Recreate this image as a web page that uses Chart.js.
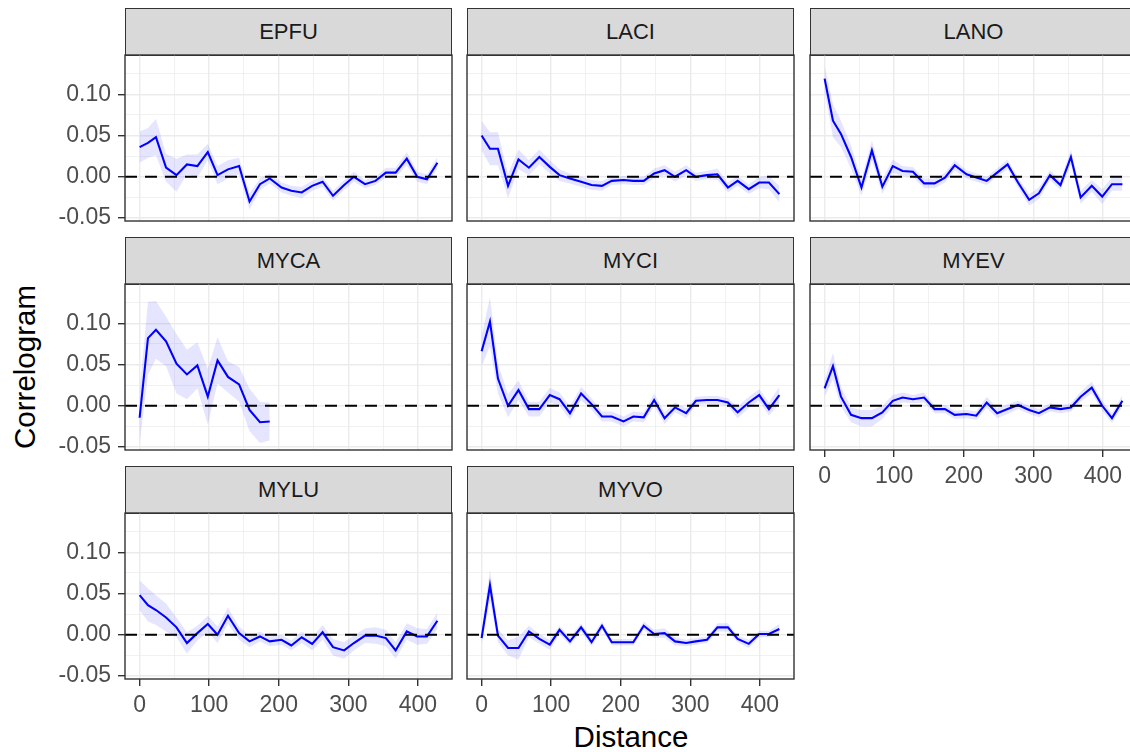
<!DOCTYPE html>
<html>
<head>
<meta charset="utf-8">
<script src="https://cdn.jsdelivr.net/npm/chart.js@4.4.1/dist/chart.umd.min.js"></script>
<style>
  html, body { margin: 0; padding: 0; background: #fff; }
  body { width: 1130px; height: 752px; overflow: hidden; position: relative;
         font-family: 'Liberation Sans', Arial, sans-serif; }
  .strip { position: absolute; box-sizing: border-box; background: #D9D9D9;
           border: 1.4px solid #333; color: #1A1A1A; font-size: 22px;
           display: flex; align-items: center; justify-content: center; }
  .holder { position: absolute; }
  .ytitle { position: absolute; left: 25px; top: 367px; font-size: 29.5px; color: #000;
            transform: translate(-50%, -50%) rotate(-90deg); white-space: nowrap; }
  .xtitle { position: absolute; left: 631px; top: 737px; font-size: 29.5px; color: #000;
            transform: translate(-50%, -50%); white-space: nowrap; }
</style>
</head>
<body>
<div class="ytitle">Correlogram</div>
<div class="xtitle">Distance</div>
<script>
// distance classes (shared by all species, MYCA only uses the first 14)
const distance = [0, 12, 23.5, 38, 53, 68, 83, 98, 112, 127, 143, 158, 173, 187, 204,
                  218, 233, 248, 263, 278, 294, 308, 324, 339, 354, 368, 384, 399, 413, 428];

const EPFU = [0.036, 0.041, 0.048, 0.011, 0.002, 0.015, 0.013, 0.030, 0.002, 0.009, 0.013, -0.030, -0.009, -0.002, -0.013,
              -0.017, -0.019, -0.011, -0.006, -0.023, -0.010, 0.000, -0.009, -0.005, 0.005, 0.005, 0.022, 0.000, -0.003, 0.017];
const LACI = [0.050, 0.034, 0.034, -0.011, 0.021, 0.011, 0.024, 0.012, 0.002, -0.002, -0.006, -0.010, -0.011, -0.005, -0.004,
              -0.005, -0.005, 0.004, 0.008, 0.000, 0.008, 0.000, 0.002, 0.003, -0.013, -0.005, -0.015, -0.007, -0.007, -0.021];
const LANO = [0.119, 0.068, 0.052, 0.024, -0.013, 0.032, -0.012, 0.013, 0.007, 0.006, -0.008, -0.008, -0.001, 0.014, 0.003,
              -0.001, -0.005, 0.005, 0.015, -0.007, -0.028, -0.020, 0.002, -0.010, 0.024, -0.025, -0.011, -0.024, -0.009, -0.009];
const MYCA = [-0.0145, 0.082, 0.092, 0.078, 0.051, 0.038, 0.049, 0.011, 0.055, 0.035, 0.026, -0.005, -0.020, -0.019];
const MYCI = [0.066, 0.102, 0.033, 0.000, 0.019, -0.004, -0.004, 0.013, 0.008, -0.009, 0.015, 0.002, -0.013, -0.013, -0.019,
              -0.013, -0.014, 0.007, -0.015, -0.002, -0.009, 0.006, 0.007, 0.007, 0.004, -0.008, 0.004, 0.013, -0.004, 0.013];
const MYEV = [0.021, 0.048, 0.011, -0.011, -0.015, -0.015, -0.008, 0.006, 0.010, 0.008, 0.010, -0.004, -0.004, -0.011, -0.010,
              -0.012, 0.004, -0.009, -0.004, 0.001, -0.005, -0.009, -0.002, -0.004, -0.002, 0.011, 0.022, 0.000, -0.015, 0.006];
const MYLU = [0.048, 0.036, 0.030, 0.021, 0.009, -0.010, 0.002, 0.013, 0.000, 0.023, 0.002, -0.008, -0.002, -0.008, -0.006,
              -0.013, -0.003, -0.011, 0.003, -0.015, -0.019, -0.010, -0.001, -0.001, -0.004, -0.019, 0.004, -0.002, -0.002, 0.017];
const MYVO = [-0.004, 0.060, -0.001, -0.016, -0.016, 0.004, -0.005, -0.012, 0.006, -0.008, 0.009, -0.009, 0.011, -0.009, -0.009,
              -0.009, 0.011, 0.001, 0.002, -0.008, -0.010, -0.008, -0.006, 0.009, 0.009, -0.005, -0.011, 0.001, 0.001, 0.007];

// half width of the confidence band
const ciEPFU = [0.019, 0.018, 0.022, 0.017, 0.020, 0.012, 0.014, 0.010, 0.011, 0.011, 0.010, 0.010, 0.007, 0.006, 0.006,
                0.006, 0.007, 0.006, 0.006, 0.006, 0.006, 0.006, 0.005, 0.005, 0.006, 0.006, 0.008, 0.006, 0.006, 0.007];
const ciLACI = [0.018, 0.020, 0.020, 0.015, 0.012, 0.009, 0.009, 0.008, 0.007, 0.006, 0.006, 0.006, 0.006, 0.005, 0.005,
                0.005, 0.005, 0.006, 0.006, 0.006, 0.006, 0.005, 0.005, 0.007, 0.006, 0.006, 0.006, 0.007, 0.008, 0.010];
const ciLANO = [0.016, 0.020, 0.016, 0.014, 0.010, 0.012, 0.009, 0.008, 0.006, 0.006, 0.006, 0.006, 0.006, 0.006, 0.005,
                0.005, 0.005, 0.005, 0.006, 0.006, 0.007, 0.007, 0.006, 0.006, 0.009, 0.008, 0.007, 0.009, 0.008, 0.008];
const ciMYCA = [0.032, 0.044, 0.035, 0.030, 0.036, 0.030, 0.028, 0.034, 0.028, 0.019, 0.021, 0.026, 0.025, 0.023];
const ciMYCI = [0.018, 0.030, 0.018, 0.014, 0.012, 0.009, 0.009, 0.009, 0.008, 0.008, 0.008, 0.007, 0.006, 0.006, 0.006,
                0.006, 0.006, 0.008, 0.007, 0.006, 0.006, 0.005, 0.005, 0.005, 0.005, 0.007, 0.007, 0.007, 0.008, 0.010];
const ciMYEV = [0.010, 0.016, 0.012, 0.009, 0.010, 0.010, 0.008, 0.007, 0.006, 0.005, 0.006, 0.005, 0.005, 0.005, 0.005,
                0.005, 0.007, 0.006, 0.006, 0.005, 0.005, 0.005, 0.005, 0.005, 0.005, 0.006, 0.007, 0.006, 0.006, 0.007];
const ciMYLU = [0.018, 0.020, 0.018, 0.017, 0.012, 0.013, 0.009, 0.010, 0.010, 0.010, 0.008, 0.007, 0.006, 0.006, 0.006,
                0.006, 0.007, 0.008, 0.009, 0.010, 0.010, 0.009, 0.009, 0.010, 0.010, 0.010, 0.010, 0.010, 0.009, 0.010];
const ciMYVO = [0.008, 0.019, 0.008, 0.009, 0.014, 0.007, 0.006, 0.006, 0.005, 0.005, 0.005, 0.005, 0.005, 0.004, 0.004,
                0.004, 0.005, 0.005, 0.006, 0.005, 0.004, 0.004, 0.004, 0.005, 0.005, 0.004, 0.005, 0.004, 0.004, 0.006];

const xMajor = [0, 100, 200, 300, 400];
const xMinor = [50, 150, 250, 350];
const yMajor = [-0.05, 0, 0.05, 0.10];
const yMinor = [-0.025, 0.025, 0.075, 0.125];

// panel grid
const colLeft = [125, 467, 810];
const rowTop = [55, 284, 513];
const panelW = 327, panelH = 166, stripH = 47;
const padL = 80, padB = 50;

const panels = [
  { name: 'EPFU', v: EPFU, ci: ciEPFU, r: 0, c: 0, showX: false },
  { name: 'LACI', v: LACI, ci: ciLACI, r: 0, c: 1, showX: false },
  { name: 'LANO', v: LANO, ci: ciLANO, r: 0, c: 2, showX: false },
  { name: 'MYCA', v: MYCA, ci: ciMYCA, r: 1, c: 0, showX: false },
  { name: 'MYCI', v: MYCI, ci: ciMYCI, r: 1, c: 1, showX: false },
  { name: 'MYEV', v: MYEV, ci: ciMYEV, r: 1, c: 2, showX: true },
  { name: 'MYLU', v: MYLU, ci: ciMYLU, r: 2, c: 0, showX: true },
  { name: 'MYVO', v: MYVO, ci: ciMYVO, r: 2, c: 1, showX: true }
];

const panelBorder = {
  id: 'panelBorder',
  afterDraw(chart) {
    const a = chart.chartArea, ctx = chart.ctx;
    ctx.save();
    ctx.strokeStyle = '#333333';
    ctx.lineWidth = 1.4;
    ctx.strokeRect(a.left, a.top, a.right - a.left, a.bottom - a.top);
    ctx.restore();
  }
};

function isIn(list, v) {
  return list.some(m => Math.abs(m - v) < 1e-9);
}

panels.forEach(p => {
  const left = colLeft[p.c], top = rowTop[p.r];

  const strip = document.createElement('div');
  strip.className = 'strip';
  strip.style.left = left + 'px';
  strip.style.top = (top - stripH) + 'px';
  strip.style.width = panelW + 'px';
  strip.style.height = (stripH + 1) + 'px';
  strip.textContent = p.name;
  document.body.appendChild(strip);

  const holder = document.createElement('div');
  holder.className = 'holder';
  holder.style.left = (left - padL) + 'px';
  holder.style.top = (top - 2) + 'px';
  const cv = document.createElement('canvas');
  cv.width = padL + panelW + 2;
  cv.height = 2 + panelH + padB;
  holder.appendChild(cv);
  document.body.appendChild(holder);

  const showY = p.c === 0;
  const line = p.v.map((y, i) => ({ x: distance[i], y: y }));
  const upper = p.v.map((y, i) => ({ x: distance[i], y: y + p.ci[i] }));
  const lower = p.v.map((y, i) => ({ x: distance[i], y: y - p.ci[i] }));

  new Chart(cv, {
    type: 'line',
    data: {
      datasets: [
        { data: [{ x: -21, y: 0 }, { x: 449, y: 0 }], borderColor: '#000', borderWidth: 2,
          borderDash: [12, 8], pointRadius: 0, fill: false, order: 0 },
        { data: line, borderColor: '#0000FF', borderWidth: 2.1, pointRadius: 0,
          tension: 0, fill: false, order: 1 },
        { data: upper, borderColor: 'transparent', borderWidth: 0, pointRadius: 0,
          backgroundColor: 'rgba(0,0,255,0.1)', fill: '+1', order: 2 },
        { data: lower, borderColor: 'transparent', borderWidth: 0, pointRadius: 0,
          fill: false, order: 3 }
      ]
    },
    options: {
      responsive: false,
      animation: false,
      events: [],
      layout: { padding: { top: 2, right: 2, left: 0, bottom: 0 } },
      plugins: { legend: { display: false }, tooltip: { enabled: false } },
      scales: {
        x: {
          type: 'linear', min: -21, max: 449,
          afterBuildTicks: s => { s.ticks = xMajor.concat(xMinor).sort((a, b) => a - b).map(v => ({ value: v })); },
          afterFit: s => { s.height = padB; s.paddingLeft = 0; s.paddingRight = 0; },
          border: { display: false },
          grid: {
            color: '#EBEBEB',
            lineWidth: c => (c.tick && isIn(xMajor, c.tick.value)) ? 1.4 : 0.7,
            drawTicks: true, tickLength: 7,
            tickColor: c => (p.showX && c.tick && isIn(xMajor, c.tick.value)) ? '#333333' : 'transparent',
            tickWidth: 1.4
          },
          ticks: {
            display: p.showX, autoSkip: false, maxRotation: 0, padding: 6,
            color: '#4D4D4D', font: { family: 'Liberation Sans', size: 23 },
            callback: v => isIn(xMajor, v) ? String(v) : ''
          }
        },
        y: {
          type: 'linear', min: -0.0536, max: 0.1476,
          afterBuildTicks: s => { s.ticks = yMajor.concat(yMinor).sort((a, b) => a - b).map(v => ({ value: v })); },
          afterFit: s => { s.width = padL; s.paddingTop = 0; s.paddingBottom = 0; },
          border: { display: false },
          grid: {
            color: '#EBEBEB',
            lineWidth: c => (c.tick && isIn(yMajor, c.tick.value)) ? 1.4 : 0.7,
            drawTicks: true, tickLength: 7,
            tickColor: c => (showY && c.tick && isIn(yMajor, c.tick.value)) ? '#333333' : 'transparent',
            tickWidth: 1.4
          },
          ticks: {
            display: showY, autoSkip: false, padding: 7,
            color: '#4D4D4D', font: { family: 'Liberation Sans', size: 23 },
            callback: v => isIn(yMajor, v) ? v.toFixed(2) : ''
          }
        }
      }
    },
    plugins: [panelBorder]
  });
});
</script>
</body>
</html>
